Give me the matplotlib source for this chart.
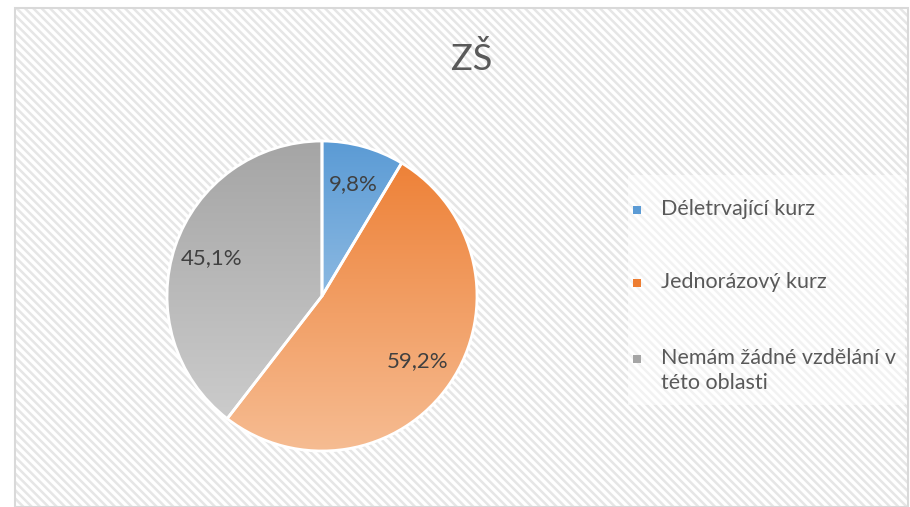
import numpy as np
import matplotlib
matplotlib.use('Agg')
import matplotlib.pyplot as plt
from matplotlib.patches import Rectangle
from matplotlib.colors import LinearSegmentedColormap

plt.rcParams['font.family'] = ['Lato', 'DejaVu Sans']

title = 'ZŠ'
categories = ['Déletrvající kurz', 'Jednorázový kurz', 'Nemám žádné vzdělání v\ntéto oblasti']
values = [9.8, 59.2, 45.1]
value_labels = ['9,8%', '59,2%', '45,1%']
# top colour -> bottom colour of the gradient fill
colors_top = ['#5B9BD5', '#ED7D31', '#A5A5A5']
colors_bottom = ['#BDD7EE', '#F6BC92', '#D0D0D0']

fig = plt.figure(figsize=(9.1, 5.07), dpi=100)
fig.patch.set_facecolor('white')

# hatched chart area + frame
plt.rcParams['hatch.linewidth'] = 1.8
fig.patches.append(Rectangle((15 / 910, 0), 893 / 910, 499 / 507, transform=fig.transFigure,
                             facecolor='white', edgecolor='#e6e6e6', hatch='\\\\\\\\',
                             linewidth=0, zorder=0))
fig.patches.append(Rectangle((15 / 910, 0), 893 / 910, 499 / 507, transform=fig.transFigure,
                             facecolor='none', edgecolor='#d9d9d9', linewidth=1.5, zorder=1))
# legend background
fig.patches.append(Rectangle((628 / 910, 1 - 405 / 507), 277 / 910, 230 / 507,
                             transform=fig.transFigure, facecolor='white', alpha=0.5,
                             edgecolor='none', zorder=1))

fig.text(472 / 910, 1 - 70 / 507, title, ha='center', va='baseline', fontsize=26, color='#595959')

cx, cy, r = 322, 296, 155
ax = fig.add_axes([(cx - r) / 910, (507 - cy - r) / 507, 2 * r / 910, 2 * r / 507])
ax.set_zorder(2)
ax.patch.set_alpha(0)

wedges, _ = ax.pie(values, startangle=90, counterclock=False, radius=1,
                   wedgeprops=dict(facecolor='none', edgecolor='white', linewidth=2))

grad = np.linspace(0, 1, 256).reshape(-1, 1)
for w, ct, cb in zip(wedges, colors_top, colors_bottom):
    cmap = LinearSegmentedColormap.from_list('g', [ct, cb])
    im = ax.imshow(grad, extent=(-1, 1, -1, 1), origin='upper', cmap=cmap,
                   aspect='auto', zorder=1)
    im.set_clip_path(w)
    w.set_zorder(2)
    w.set_clip_on(False)

for w, lab in zip(wedges, value_labels):
    ang = np.deg2rad((w.theta1 + w.theta2) / 2)
    ax.text(0.75 * np.cos(ang), 0.75 * np.sin(ang), lab, ha='center', va='center',
            fontsize=16, color='#404040', zorder=3)

ax.set_xlim(-1, 1)
ax.set_ylim(-1, 1)
ax.axis('off')

# legend
leg_y = [210, 283, 359]
for y, lab, ct in zip(leg_y, categories, colors_top):
    fig.patches.append(Rectangle((633 / 910, 1 - (y + 4) / 507), 8 / 910, 8 / 507,
                                 transform=fig.transFigure, facecolor=ct,
                                 edgecolor='none', zorder=3))
    fig.text(661 / 910, 1 - (y - 11) / 507, lab, ha='left', va='top', fontsize=15.5,
             color='#595959', linespacing=1.3)

fig.savefig('out.png', dpi=100)
